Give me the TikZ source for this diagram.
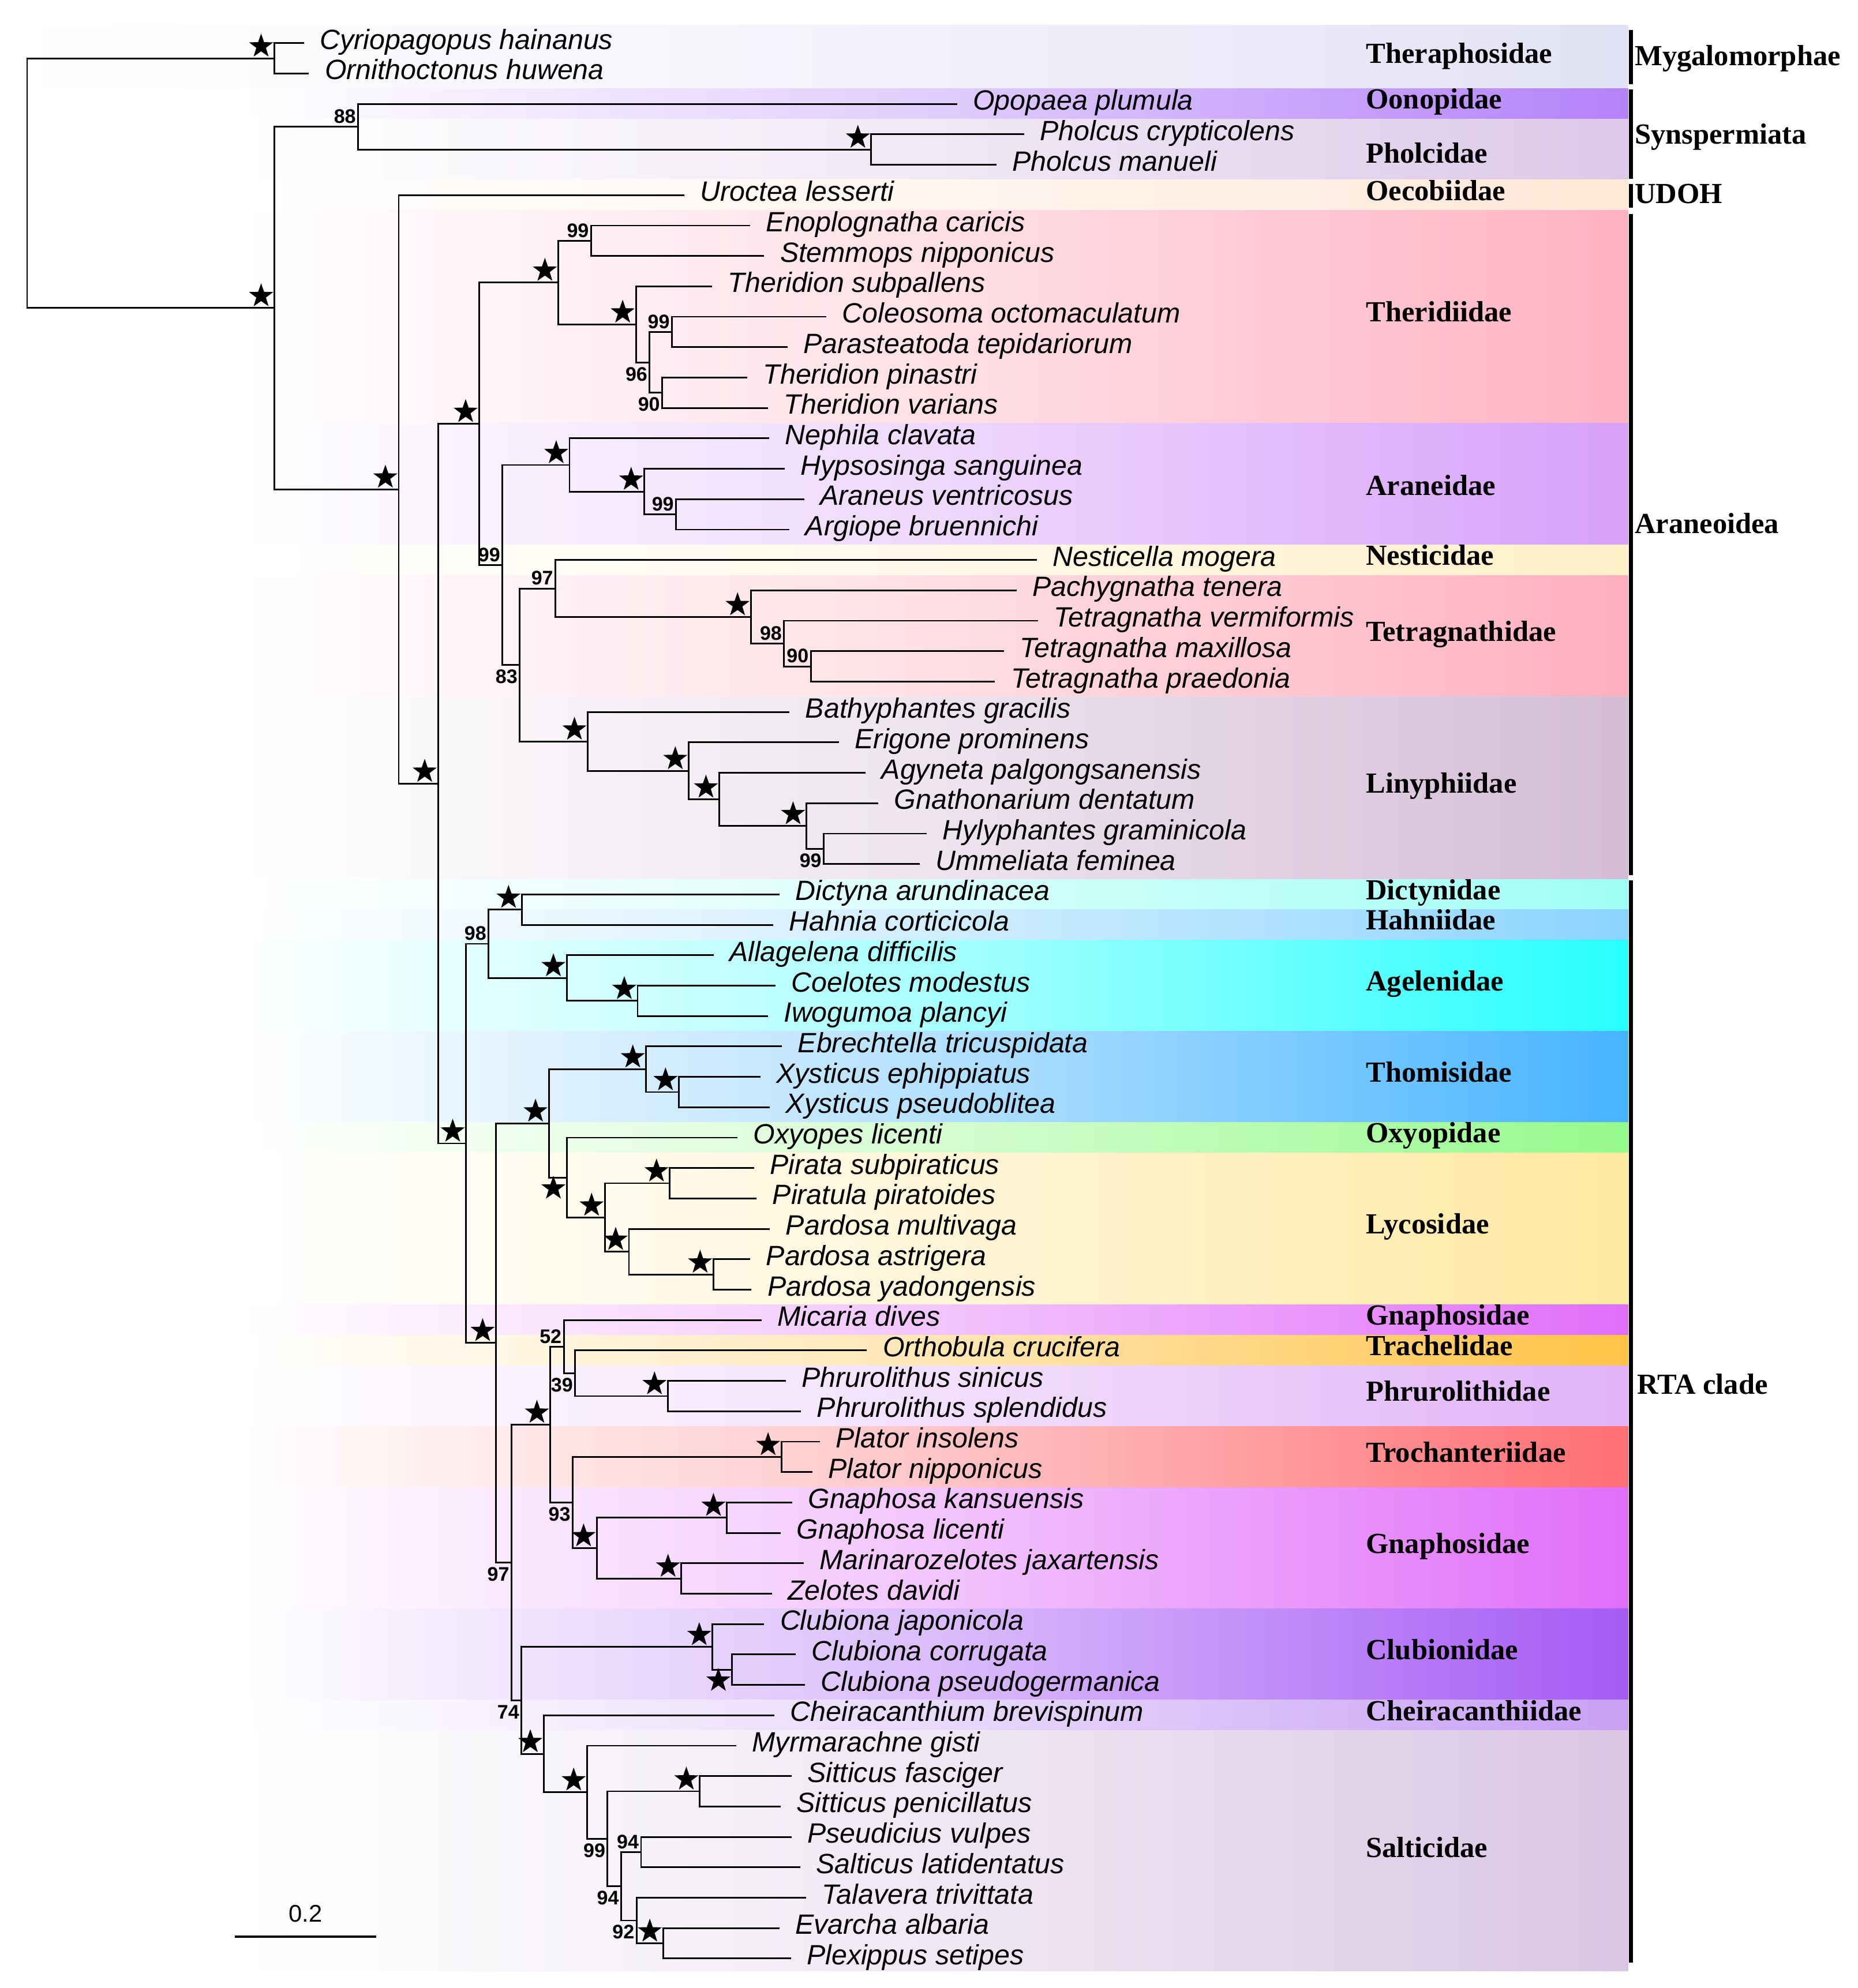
\documentclass[tikz,border=0pt]{standalone}
\usepackage{fontspec}
\usepackage{tikz}
\usetikzlibrary{shapes.geometric, calc}
\newfontfamily\arialfont{Liberation Sans}
\newfontfamily\timesfont{Liberation Serif}
\definecolor{cthera}{RGB}{226,226,246}
\definecolor{coono}{RGB}{180,130,250}
\definecolor{cpholc}{RGB}{220,200,232}
\definecolor{coecob}{RGB}{255,232,215}
\definecolor{ctherid}{RGB}{255,178,195}
\definecolor{caran}{RGB}{215,160,250}
\definecolor{cnest}{RGB}{255,240,200}
\definecolor{ctetra}{RGB}{255,175,190}
\definecolor{cliny}{RGB}{212,188,214}
\definecolor{cdict}{RGB}{160,255,245}
\definecolor{chahn}{RGB}{140,212,255}
\definecolor{cagel}{RGB}{40,255,255}
\definecolor{cthom}{RGB}{70,180,255}
\definecolor{coxyo}{RGB}{150,250,140}
\definecolor{clyco}{RGB}{255,232,160}
\definecolor{cgnap}{RGB}{225,110,250}
\definecolor{ctrach}{RGB}{255,195,70}
\definecolor{cphru}{RGB}{225,178,248}
\definecolor{ctroch}{RGB}{255,110,115}
\definecolor{cclub}{RGB}{165,90,245}
\definecolor{cchei}{RGB}{200,160,245}
\definecolor{csalt}{RGB}{218,198,228}
\tikzset{
	branch/.style={
		line width=1.3pt,
		line cap=rect
	},
	taxon/.style={
		anchor=west,
		inner xsep=13pt,
		inner ysep=0pt,
		text height=15.8pt,
		text depth=6.2pt,
		font=\arialfont\itshape\fontsize{22}{26}\selectfont
	},
	family/.style={
		anchor=west,
		inner sep=0pt,
		text height=15pt,
		text depth=7pt,
		font=\timesfont\bfseries\fontsize{23}{27}\selectfont
	},
	groupbar/.style={line width=3.2pt},
	bstar/.style={
		shape=star,
		star points=5,
		star point ratio=2.5,
		fill=black,
		inner sep=0pt,
		minimum size=20pt
	},
	starup/.style={bstar, xshift=-10.5pt, yshift=9.5pt},
	stardn/.style={bstar, xshift=-10.5pt, yshift=-8.5pt},
	supup/.style={
		anchor=south east,
		inner sep=0pt,
		xshift=-1.6pt,
		yshift=2.5pt,
		font=\arialfont\bfseries\fontsize{15.5}{18}\selectfont
	},
	supdn/.style={
		anchor=north east,
		inner sep=0pt,
		xshift=-1.6pt,
		yshift=-3.5pt,
		font=\arialfont\bfseries\fontsize{15.5}{18}\selectfont
	},
	fband/.style={left color=white, right color=#1, middle color=#1!40}
}

\begin{document}
\begin{tikzpicture}[x=1pt, y=-23.98pt]
	\useasboundingbox (0,-0.418) rectangle (1465,64.97);
	\fill[white] (0,-0.418) rectangle (1465,64.97);
	
	\shade[fband=cthera] (5,0.4) rectangle (1284,2.5);
	\shade[fband=coono] (190,2.5) rectangle (1284,3.5);
	\shade[fband=cpholc] (190,3.5) rectangle (1284,5.5);
	\shade[fband=coecob] (190,5.5) rectangle (1284,6.5);
	\shade[fband=ctherid] (190,6.5) rectangle (1284,13.5);
	\shade[fband=caran] (190,13.5) rectangle (1284,17.5);
	\shade[fband=cnest] (190,17.5) rectangle (1284,18.5);
	\shade[fband=ctetra] (190,18.5) rectangle (1284,22.5);
	\shade[fband=cliny] (190,22.5) rectangle (1284,28.5);
	\shade[fband=cdict] (190,28.5) rectangle (1284,29.5);
	\shade[fband=chahn] (190,29.5) rectangle (1284,30.5);
	\shade[fband=cagel] (190,30.5) rectangle (1284,33.5);
	\shade[fband=cthom] (190,33.5) rectangle (1284,36.5);
	\shade[fband=coxyo] (190,36.5) rectangle (1284,37.5);
	\shade[fband=clyco] (190,37.5) rectangle (1284,42.5);
	\shade[fband=cgnap] (190,42.5) rectangle (1284,43.5);
	\shade[fband=ctrach] (190,43.5) rectangle (1284,44.5);
	\shade[fband=cphru] (190,44.5) rectangle (1284,46.5);
	\shade[fband=ctroch] (190,46.5) rectangle (1284,48.5);
	\shade[fband=cgnap] (190,48.5) rectangle (1284,52.5);
	\shade[fband=cclub] (190,52.5) rectangle (1284,55.5);
	\shade[fband=cchei] (190,55.5) rectangle (1284,56.5);
	\shade[fband=csalt] (190,56.5) rectangle (1284,64.4);
	
	\node(sp1) at (239,1) [taxon] {Cyriopagopus hainanus};
	\node(sp2) at (243,2) [taxon] {Ornithoctonus huwena};
	\node(sp3) at (754,3) [taxon] {Opopaea plumula};
	\node(sp4) at (807,4) [taxon] {Pholcus crypticolens};
	\node(sp5) at (785,5) [taxon] {Pholcus manueli};
	\node(sp6) at (539,6) [taxon] {Uroctea lesserti};
	\node(sp7) at (591,7) [taxon] {Enoplognatha caricis};
	\node(sp8) at (602,8) [taxon] {Stemmops nipponicus};
	\node(sp9) at (561,9) [taxon] {Theridion subpallens};
	\node(sp10) at (651,10) [taxon] {Coleosoma octomaculatum};
	\node(sp11) at (620.5,11) [taxon] {Parasteatoda tepidariorum};
	\node(sp12) at (588.6,12) [taxon] {Theridion pinastri};
	\node(sp13) at (605,13) [taxon] {Theridion varians};
	\node(sp14) at (606,14) [taxon] {Nephila clavata};
	\node(sp15) at (618,15) [taxon] {Hypsosinga sanguinea};
	\node(sp16) at (633.6,16) [taxon] {Araneus ventricosus};
	\node(sp17) at (622,17) [taxon] {Argiope bruennichi};
	\node(sp18) at (817,18) [taxon] {Nesticella mogera};
	\node(sp19) at (801,19) [taxon] {Pachygnatha tenera};
	\node(sp20) at (818,20) [taxon] {Tetragnatha vermiformis};
	\node(sp21) at (791,21) [taxon] {Tetragnatha maxillosa};
	\node(sp22) at (784,22) [taxon] {Tetragnatha praedonia};
	\node(sp23) at (622,23) [taxon] {Bathyphantes gracilis};
	\node(sp24) at (661,24) [taxon] {Erigone prominens};
	\node(sp25) at (682,25) [taxon] {Agyneta palgongsanensis};
	\node(sp26) at (692,26) [taxon] {Gnathonarium dentatum};
	\node(sp27) at (730,27) [taxon] {Hylyphantes graminicola};
	\node(sp28) at (724.6,28) [taxon] {Ummeliata feminea};
	\node(sp29) at (614,29) [taxon] {Dictyna arundinacea};
	\node(sp30) at (609,30) [taxon] {Hahnia corticicola};
	\node(sp31) at (562,31) [taxon] {Allagelena difficilis};
	\node(sp32) at (611,32) [taxon] {Coelotes modestus};
	\node(sp33) at (605,33) [taxon] {Iwogumoa plancyi};
	\node(sp34) at (616,34) [taxon] {Ebrechtella tricuspidata};
	\node(sp35) at (599,35) [taxon] {Xysticus ephippiatus};
	\node(sp36) at (606.5,36) [taxon] {Xysticus pseudoblitea};
	\node(sp37) at (581,37) [taxon] {Oxyopes licenti};
	\node(sp38) at (594,38) [taxon] {Pirata subpiraticus};
	\node(sp39) at (596,39) [taxon] {Piratula piratoides};
	\node(sp40) at (606.5,40) [taxon] {Pardosa multivaga};
	\node(sp41) at (591,41) [taxon] {Pardosa astrigera};
	\node(sp42) at (592,42) [taxon] {Pardosa yadongensis};
	\node(sp43) at (600,43) [taxon] {Micaria dives};
	\node(sp44) at (683,44) [taxon] {Orthobula crucifera};
	\node(sp45) at (619,45) [taxon] {Phrurolithus sinicus};
	\node(sp46) at (631,46) [taxon] {Phrurolithus splendidus};
	\node(sp47) at (646,47) [taxon] {Plator insolens};
	\node(sp48) at (640,48) [taxon] {Plator nipponicus};
	\node(sp49) at (624,49) [taxon] {Gnaphosa kansuensis};
	\node(sp50) at (615,50) [taxon] {Gnaphosa licenti};
	\node(sp51) at (633,51) [taxon] {Marinarozelotes jaxartensis};
	\node(sp52) at (608,52) [taxon] {Zelotes davidi};
	\node(sp53) at (602,53) [taxon] {Clubiona japonicola};
	\node(sp54) at (627,54) [taxon] {Clubiona corrugata};
	\node(sp55) at (634,55) [taxon] {Clubiona pseudogermanica};
	\node(sp56) at (610,56) [taxon] {Cheiracanthium brevispinum};
	\node(sp57) at (580,57) [taxon] {Myrmarachne gisti};
	\node(sp58) at (623.5,58) [taxon] {Sitticus fasciger};
	\node(sp59) at (615,59) [taxon] {Sitticus penicillatus};
	\node(sp60) at (623.5,60) [taxon] {Pseudicius vulpes};
	\node(sp61) at (630.5,61) [taxon] {Salticus latidentatus};
	\node(sp62) at (635,62) [taxon] {Talavera trivittata};
	\node(sp63) at (614,63) [taxon] {Evarcha albaria};
	\node(sp64) at (623,64) [taxon] {Plexippus setipes};
	
	\coordinate (root) at (21.4,5.607);
	\coordinate (myg) at (216.4,1.5);
	\coordinate (aranm) at (216.4,9.713);
	\coordinate (syn) at (282.4,3.75);
	\coordinate (phol) at (687,4.5);
	\coordinate (entel) at (314.4,15.68);
	\coordinate (orb) at (345.4,25.355);
	\coordinate (aroid) at (377.7,13.52);
	\coordinate (ther) at (440.2,8.875);
	\coordinate (ther_a) at (466.1,7.5);
	\coordinate (ther_b) at (501.5,10.25);
	\coordinate (ther_c) at (512.3,11.5);
	\coordinate (ther_d) at (529.9,10.5);
	\coordinate (ther_e) at (522.2,12.5);
	\coordinate (aroid_a) at (396.2,18.164);
	\coordinate (aran) at (449.1,14.875);
	\coordinate (aran_a) at (508.2,15.75);
	\coordinate (aran_b) at (533.1,16.5);
	\coordinate (aroid_b) at (409.9,21.453);
	\coordinate (nest) at (438,18.938);
	\coordinate (tetr) at (592.1,19.875);
	\coordinate (tetr_a) at (618.3,20.75);
	\coordinate (tetr_b) at (639.4,21.5);
	\coordinate (liny) at (463.5,23.969);
	\coordinate (liny_a) at (543,24.938);
	\coordinate (liny_b) at (567.2,25.875);
	\coordinate (liny_c) at (635.9,26.75);
	\coordinate (liny_d) at (649.6,27.5);
	\coordinate (rta) at (367.5,37.19);
	\coordinate (rta_a) at (385.3,30.625);
	\coordinate (dict) at (411.5,29.5);
	\coordinate (agel) at (446.9,31.75);
	\coordinate (agel_a) at (502.8,32.5);
	\coordinate (rta_b) at (391.1,43.75);
	\coordinate (rta_c) at (432.8,36.53);
	\coordinate (thom) at (509.5,34.75);
	\coordinate (thom_a) at (535.3,35.5);
	\coordinate (oxly) at (446.9,38.313);
	\coordinate (lyco) at (477,39.625);
	\coordinate (lyco_a) at (528.2,38.5);
	\coordinate (lyco_b) at (496,40.75);
	\coordinate (lyco_c) at (562.6,41.5);
	\coordinate (rta_d) at (403.4,50.97);
	\coordinate (rta_e) at (433.9,46.438);
	\coordinate (rta_f) at (444.6,43.875);
	\coordinate (rta_g) at (453.5,44.75);
	\coordinate (phru) at (526.6,45.5);
	\coordinate (rta_h) at (451.6,49);
	\coordinate (troc) at (616.2,47.5);
	\coordinate (gnap) at (470.7,50.5);
	\coordinate (gnap_a) at (573.1,49.5);
	\coordinate (gnap_b) at (537.3,51.5);
	\coordinate (rta_i) at (411.2,55.51);
	\coordinate (club) at (561.9,53.75);
	\coordinate (club_a) at (577,54.5);
	\coordinate (salt) at (428.7,57.27);
	\coordinate (salt_a) at (462.9,58.53);
	\coordinate (salt_b) at (479.1,60.063);
	\coordinate (salt_c) at (551.7,58.5);
	\coordinate (salt_d) at (489.8,61.625);
	\coordinate (salt_e) at (505.5,60.5);
	\coordinate (salt_f) at (502,62.75);
	\coordinate (salt_g) at (522.9,63.5);
	
	\draw[branch] (root) |- (myg);
	\draw[branch] (root) |- (aranm);
	\draw[branch] (myg) |- (sp1);
	\draw[branch] (myg) |- (sp2);
	\draw[branch] (aranm) |- (syn);
	\draw[branch] (aranm) |- (entel);
	\draw[branch] (syn) |- (sp3);
	\draw[branch] (syn) |- (phol);
	\draw[branch] (phol) |- (sp4);
	\draw[branch] (phol) |- (sp5);
	\draw[branch] (entel) |- (sp6);
	\draw[branch] (entel) |- (orb);
	\draw[branch] (orb) |- (aroid);
	\draw[branch] (orb) |- (rta);
	
	\draw[branch] (aroid) |- (ther);
	\draw[branch] (aroid) |- (aroid_a);
	\draw[branch] (ther) |- (ther_a);
	\draw[branch] (ther) |- (ther_b);
	\draw[branch] (ther_a) |- (sp7);
	\draw[branch] (ther_a) |- (sp8);
	\draw[branch] (ther_b) |- (sp9);
	\draw[branch] (ther_b) |- (ther_c);
	\draw[branch] (ther_c) |- (ther_d);
	\draw[branch] (ther_c) |- (ther_e);
	\draw[branch] (ther_d) |- (sp10);
	\draw[branch] (ther_d) |- (sp11);
	\draw[branch] (ther_e) |- (sp12);
	\draw[branch] (ther_e) |- (sp13);
	\draw[branch] (aroid_a) |- (aran);
	\draw[branch] (aroid_a) |- (aroid_b);
	\draw[branch] (aran) |- (sp14);
	\draw[branch] (aran) |- (aran_a);
	\draw[branch] (aran_a) |- (sp15);
	\draw[branch] (aran_a) |- (aran_b);
	\draw[branch] (aran_b) |- (sp16);
	\draw[branch] (aran_b) |- (sp17);
	\draw[branch] (aroid_b) |- (nest);
	\draw[branch] (aroid_b) |- (liny);
	\draw[branch] (nest) |- (sp18);
	\draw[branch] (nest) |- (tetr);
	\draw[branch] (tetr) |- (sp19);
	\draw[branch] (tetr) |- (tetr_a);
	\draw[branch] (tetr_a) |- (sp20);
	\draw[branch] (tetr_a) |- (tetr_b);
	\draw[branch] (tetr_b) |- (sp21);
	\draw[branch] (tetr_b) |- (sp22);
	\draw[branch] (liny) |- (sp23);
	\draw[branch] (liny) |- (liny_a);
	\draw[branch] (liny_a) |- (sp24);
	\draw[branch] (liny_a) |- (liny_b);
	\draw[branch] (liny_b) |- (sp25);
	\draw[branch] (liny_b) |- (liny_c);
	\draw[branch] (liny_c) |- (sp26);
	\draw[branch] (liny_c) |- (liny_d);
	\draw[branch] (liny_d) |- (sp27);
	\draw[branch] (liny_d) |- (sp28);
	
	\draw[branch] (rta) |- (rta_a);
	\draw[branch] (rta) |- (rta_b);
	\draw[branch] (rta_a) |- (dict);
	\draw[branch] (rta_a) |- (agel);
	\draw[branch] (dict) |- (sp29);
	\draw[branch] (dict) |- (sp30);
	\draw[branch] (agel) |- (sp31);
	\draw[branch] (agel) |- (agel_a);
	\draw[branch] (agel_a) |- (sp32);
	\draw[branch] (agel_a) |- (sp33);
	\draw[branch] (rta_b) |- (rta_c);
	\draw[branch] (rta_b) |- (rta_d);
	\draw[branch] (rta_c) |- (thom);
	\draw[branch] (rta_c) |- (oxly);
	\draw[branch] (thom) |- (sp34);
	\draw[branch] (thom) |- (thom_a);
	\draw[branch] (thom_a) |- (sp35);
	\draw[branch] (thom_a) |- (sp36);
	\draw[branch] (oxly) |- (sp37);
	\draw[branch] (oxly) |- (lyco);
	\draw[branch] (lyco) |- (lyco_a);
	\draw[branch] (lyco) |- (lyco_b);
	\draw[branch] (lyco_a) |- (sp38);
	\draw[branch] (lyco_a) |- (sp39);
	\draw[branch] (lyco_b) |- (sp40);
	\draw[branch] (lyco_b) |- (lyco_c);
	\draw[branch] (lyco_c) |- (sp41);
	\draw[branch] (lyco_c) |- (sp42);
	\draw[branch] (rta_d) |- (rta_e);
	\draw[branch] (rta_d) |- (rta_i);
	\draw[branch] (rta_e) |- (rta_f);
	\draw[branch] (rta_e) |- (rta_h);
	\draw[branch] (rta_f) |- (sp43);
	\draw[branch] (rta_f) |- (rta_g);
	\draw[branch] (rta_g) |- (sp44);
	\draw[branch] (rta_g) |- (phru);
	\draw[branch] (phru) |- (sp45);
	\draw[branch] (phru) |- (sp46);
	\draw[branch] (rta_h) |- (troc);
	\draw[branch] (rta_h) |- (gnap);
	\draw[branch] (troc) |- (sp47);
	\draw[branch] (troc) |- (sp48);
	\draw[branch] (gnap) |- (gnap_a);
	\draw[branch] (gnap) |- (gnap_b);
	\draw[branch] (gnap_a) |- (sp49);
	\draw[branch] (gnap_a) |- (sp50);
	\draw[branch] (gnap_b) |- (sp51);
	\draw[branch] (gnap_b) |- (sp52);
	\draw[branch] (rta_i) |- (club);
	\draw[branch] (rta_i) |- (salt);
	\draw[branch] (club) |- (sp53);
	\draw[branch] (club) |- (club_a);
	\draw[branch] (club_a) |- (sp54);
	\draw[branch] (club_a) |- (sp55);
	\draw[branch] (salt) |- (sp56);
	\draw[branch] (salt) |- (salt_a);
	\draw[branch] (salt_a) |- (sp57);
	\draw[branch] (salt_a) |- (salt_b);
	\draw[branch] (salt_b) |- (salt_c);
	\draw[branch] (salt_b) |- (salt_d);
	\draw[branch] (salt_c) |- (sp58);
	\draw[branch] (salt_c) |- (sp59);
	\draw[branch] (salt_d) |- (salt_e);
	\draw[branch] (salt_d) |- (salt_f);
	\draw[branch] (salt_e) |- (sp60);
	\draw[branch] (salt_e) |- (sp61);
	\draw[branch] (salt_f) |- (sp62);
	\draw[branch] (salt_f) |- (salt_g);
	\draw[branch] (salt_g) |- (sp63);
	\draw[branch] (salt_g) |- (sp64);
	
	\node(s_myg) at (myg) [starup] {};
	\node(s_aranm) at (aranm) [starup] {};
	\node(b_syn) at (syn) [supup] {88};
	\node(s_phol) at (phol) [starup] {};
	\node(s_entel) at (entel) [starup] {};
	\node(s_orb) at (orb) [starup] {};
	\node(s_aroid) at (aroid) [starup] {};
	\node(s_ther) at (ther) [starup] {};
	\node(b_ther_a) at (ther_a) [supup] {99};
	\node(s_ther_b) at (ther_b) [starup] {};
	\node(b_ther_c) at (ther_c) [supdn] {96};
	\node(b_ther_d) at (ther_d) [supup] {99};
	\node(b_ther_e) at (ther_e) [supdn] {90};
	\node(b_aroid_a) at (aroid_a) [supup] {99};
	\node(s_aran) at (aran) [starup] {};
	\node(s_aran_a) at (aran_a) [starup] {};
	\node(b_aran_b) at (aran_b) [supup] {99};
	\node(b_aroid_b) at (aroid_b) [supdn] {83};
	\node(b_nest) at (nest) [supup] {97};
	\node(s_tetr) at (tetr) [starup] {};
	\node(b_tetr_a) at (tetr_a) [supup] {98};
	\node(b_tetr_b) at (tetr_b) [supup] {90};
	\node(s_liny) at (liny) [starup] {};
	\node(s_liny_a) at (liny_a) [starup] {};
	\node(s_liny_b) at (liny_b) [starup] {};
	\node(s_liny_c) at (liny_c) [starup] {};
	\node(b_liny_d) at (liny_d) [supdn] {99};
	
	\node(s_rta) at (rta) [starup] {};
	\node(b_rta_a) at (rta_a) [supup] {98};
	\node(s_dict) at (dict) [starup] {};
	\node(s_agel) at (agel) [starup] {};
	\node(s_agel_a) at (agel_a) [starup] {};
	\node(s_rta_b) at (rta_b) [starup] {};
	\node(s_rta_c) at (rta_c) [starup] {};
	\node(s_thom) at (thom) [starup] {};
	\node(s_thom_a) at (thom_a) [starup] {};
	\node(s_oxly) at (oxly) [stardn] {};
	\node(s_lyco) at (lyco) [starup] {};
	\node(s_lyco_a) at (lyco_a) [starup] {};
	\node(s_lyco_b) at (lyco_b) [starup] {};
	\node(s_lyco_c) at (lyco_c) [starup] {};
	\node(b_rta_d) at (rta_d) [supdn] {97};
	\node(s_rta_e) at (rta_e) [starup] {};
	\node(b_rta_f) at (rta_f) [supup] {52};
	\node(b_rta_g) at (rta_g) [supdn] {39};
	\node(s_phru) at (phru) [starup] {};
	\node(b_rta_h) at (rta_h) [supdn] {93};
	\node(s_troc) at (troc) [starup] {};
	\node(s_gnap) at (gnap) [starup] {};
	\node(s_gnap_a) at (gnap_a) [starup] {};
	\node(s_gnap_b) at (gnap_b) [starup] {};
	\node(b_rta_i) at (rta_i) [supdn] {74};
	\node(s_club) at (club) [starup] {};
	\node(s_club_a) at (club_a) [stardn] {};
	\node(s_salt) at (salt) [starup] {};
	\node(s_salt_a) at (salt_a) [starup] {};
	\node(b_salt_b) at (salt_b) [supdn] {99};
	\node(s_salt_c) at (salt_c) [starup] {};
	\node(b_salt_d) at (salt_d) [supdn] {94};
	\node(b_salt_e) at (salt_e) [supup] {94};
	\node(b_salt_f) at (salt_f) [supdn] {92};
	\node(s_salt_g) at (salt_g) [starup] {};
	
	\node(f1) at (1077,1.5) [family] {Theraphosidae};
	\node(f2) at (1077,3) [family] {Oonopidae};
	\node(f3) at (1077,4.78) [family] {Pholcidae};
	\node(f4) at (1077,6) [family] {Oecobiidae};
	\node(f5) at (1077,10) [family] {Theridiidae};
	\node(f6) at (1077,15.7) [family] {Araneidae};
	\node(f7) at (1077,18) [family] {Nesticidae};
	\node(f8) at (1077,20.5) [family] {Tetragnathidae};
	\node(f9) at (1077,25.5) [family] {Linyphiidae};
	\node(f10) at (1077,29) [family] {Dictynidae};
	\node(f11) at (1077,30) [family] {Hahniidae};
	\node(f12) at (1077,32) [family] {Agelenidae};
	\node(f13) at (1077,35) [family] {Thomisidae};
	\node(f14) at (1077,37) [family] {Oxyopidae};
	\node(f15) at (1077,40) [family] {Lycosidae};
	\node(f16) at (1077,43) [family] {Gnaphosidae};
	\node(f17) at (1077,44) [family] {Trachelidae};
	\node(f18) at (1077,45.5) [family] {Phrurolithidae};
	\node(f19) at (1077,47.5) [family] {Trochanteriidae};
	\node(f20) at (1077,50.5) [family] {Gnaphosidae};
	\node(f21) at (1077,54) [family] {Clubionidae};
	\node(f22) at (1077,56) [family] {Cheiracanthiidae};
	\node(f23) at (1077,60.5) [family] {Salticidae};
	
	\draw[groupbar] (1286,0.575) -- (1286,2.347);
	\draw[groupbar] (1286,2.526) -- (1286,5.462);
	\draw[groupbar] (1286,5.629) -- (1286,6.421);
	\draw[groupbar] (1286,6.63) -- (1286,28.36);
	\draw[groupbar] (1286,28.535) -- (1286,64.14);
	
	\node(g1) at (1289,1.57) [family] {Mygalomorphae};
	\node(g2) at (1289,4.15) [family] {Synspermiata};
	\node(g3) at (1289,6.11) [family] {UDOH};
	\node(g4) at (1289,16.95) [family] {Araneoidea};
	\node(g5) at (1291,45.27) [family] {RTA clade};
	
	\coordinate (sb_l) at (185.3,63.28);
	\coordinate (sb_r) at (296.8,63.28);
	\draw[line width=1.5pt] (sb_l) -- (sb_r);
	\node(sb_t) at ($(sb_l)!0.5!(sb_r)$) [above, inner sep=0pt, yshift=11pt, font=\arialfont\fontsize{19}{22}\selectfont] {0.2};
	
\end{tikzpicture}
\end{document}
